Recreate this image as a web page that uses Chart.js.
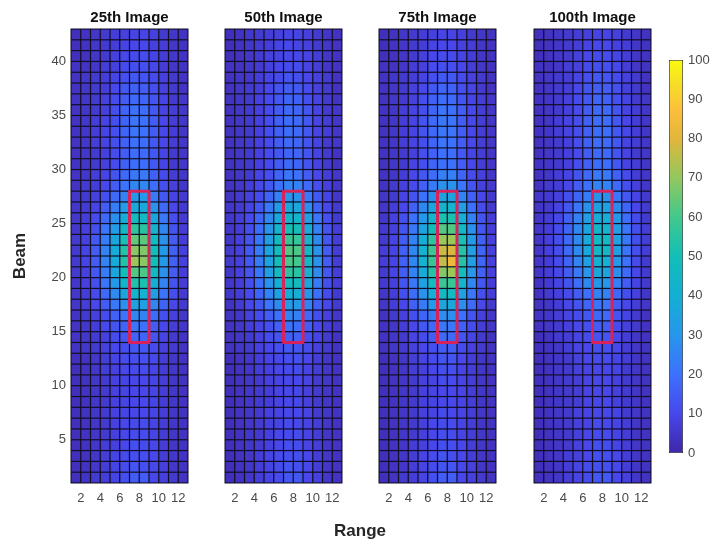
<!DOCTYPE html>
<html>
<head>
<meta charset="utf-8">
<script src="https://cdn.jsdelivr.net/npm/chart.js@4.4.1/dist/chart.umd.min.js"></script>
<style>
  body { margin: 0; background: #fff; }
  #wrap { position: relative; width: 720px; height: 546px; overflow: hidden; }
  canvas { position: absolute; top: 0; }
  #rangeLabel { position: absolute; left: 0; width: 720px; top: 521px; text-align: center;
    font: bold 17px "Liberation Sans", Arial, sans-serif; color: #262626; }
</style>
</head>
<body>
<div id="wrap">
  <canvas id="p0"></canvas>
  <canvas id="p1"></canvas>
  <canvas id="p2"></canvas>
  <canvas id="p3"></canvas>
  <canvas id="cbar"></canvas>
  <div id="rangeLabel">Range</div>
</div>
<script>
// grid values, rows listed from the top (beam 42) down to the bottom (beam 1), 12 range columns each
var img25 = [
  [3,4,5,6,7,8,9,9,8,6,5,4],
  [3,4,5,6,7,9,10,10,8,7,5,4],
  [3,4,5,6,8,10,11,11,9,7,5,4],
  [4,4,5,7,8,11,12,12,10,7,5,4],
  [4,5,6,7,9,12,14,13,11,8,6,4],
  [4,5,6,7,10,14,16,15,12,8,6,4],
  [4,5,6,8,11,15,18,17,13,9,6,5],
  [4,5,6,8,12,17,20,19,14,9,7,5],
  [4,5,7,9,12,17,21,20,15,10,7,5],
  [4,5,7,9,12,17,21,20,15,10,7,5],
  [4,5,7,9,12,16,20,19,14,10,7,5],
  [4,5,6,8,11,15,19,18,14,9,6,5],
  [4,5,6,8,11,16,19,19,14,9,6,5],
  [4,5,7,9,13,18,22,22,16,11,7,5],
  [4,6,7,10,15,21,26,26,19,12,8,5],
  [5,6,8,12,18,25,31,31,23,14,9,6],
  [5,6,9,15,23,32,38,37,29,18,10,6],
  [5,7,11,18,28,39,47,46,36,22,12,6],
  [5,8,12,21,32,46,56,55,42,26,13,7],
  [6,8,14,23,36,51,64,63,47,29,15,7],
  [6,9,15,25,38,54,69,68,50,31,16,8],
  [6,9,15,25,38,54,71,69,50,31,16,8],
  [6,8,14,23,36,50,62,61,46,29,15,7],
  [5,8,12,21,31,44,53,52,40,25,13,7],
  [5,7,11,18,27,36,43,42,33,21,12,6],
  [5,7,10,15,22,29,35,34,26,17,10,6],
  [4,6,8,11,16,21,26,25,19,12,8,5],
  [4,5,7,10,13,17,21,20,15,10,7,5],
  [4,5,6,8,11,14,17,17,13,9,6,4],
  [4,5,6,8,10,12,14,14,11,8,6,4],
  [3,4,5,7,9,11,12,12,10,7,5,4],
  [3,4,5,7,8,10,11,11,9,7,5,4],
  [3,4,5,6,8,9,10,10,9,7,5,4],
  [3,4,5,6,8,9,10,10,9,7,5,4],
  [3,4,5,6,8,9,10,10,9,7,5,4],
  [3,4,5,6,8,9,10,10,9,7,5,4],
  [3,4,5,6,8,10,11,11,9,7,5,4],
  [3,4,5,6,8,10,11,11,9,7,5,4],
  [3,4,5,7,8,10,12,11,10,7,5,4],
  [3,4,5,7,9,11,12,12,10,7,5,4],
  [3,4,5,7,9,11,13,12,10,8,5,4],
  [3,4,6,7,9,12,15,15,10,8,6,4]
];
var img50 = [
  [3,4,5,6,7,8,9,9,8,6,5,4],
  [3,4,5,6,7,9,10,9,8,6,5,4],
  [3,4,5,6,8,9,10,10,9,7,5,4],
  [4,4,5,6,8,10,11,11,9,7,5,4],
  [4,5,5,7,9,11,13,12,10,8,6,4],
  [4,5,6,7,10,13,15,14,11,8,6,4],
  [4,5,6,8,11,14,17,16,12,9,6,4],
  [4,5,6,8,11,15,18,17,13,9,6,5],
  [4,5,6,8,12,16,19,18,14,9,7,5],
  [4,5,6,8,12,16,19,18,14,9,7,5],
  [4,5,6,8,11,15,18,17,13,9,6,5],
  [4,5,6,8,11,14,17,17,13,9,6,4],
  [4,5,6,8,11,15,18,17,13,9,6,4],
  [4,5,6,9,12,17,21,20,15,10,7,5],
  [4,5,7,10,14,20,25,24,18,12,8,5],
  [4,6,8,11,17,24,30,29,22,14,9,5],
  [5,6,9,14,22,31,37,36,28,17,10,6],
  [5,7,11,17,26,37,44,43,34,21,12,6],
  [5,7,12,19,30,43,51,50,39,24,13,7],
  [5,8,13,21,33,48,58,57,44,27,14,7],
  [6,8,14,23,35,50,62,61,46,29,15,7],
  [6,8,14,23,35,50,61,60,46,29,15,7],
  [5,8,13,21,33,47,56,55,42,27,14,7],
  [5,7,12,19,29,40,48,47,37,23,12,7],
  [5,7,11,17,25,34,40,39,31,20,11,6],
  [4,6,10,14,21,27,32,31,25,16,10,6],
  [4,5,8,11,15,20,25,24,18,12,8,5],
  [4,5,7,9,12,16,20,19,15,10,7,5],
  [4,5,6,8,11,13,16,16,12,9,6,4],
  [4,5,6,8,10,12,14,13,11,8,6,4],
  [3,4,5,7,9,10,12,12,10,7,5,4],
  [3,4,5,7,8,10,11,11,9,7,5,4],
  [3,4,5,6,8,9,10,10,9,6,5,4],
  [3,4,5,6,7,9,10,10,8,6,5,4],
  [3,4,5,6,7,9,10,10,8,6,5,4],
  [3,4,5,6,8,9,10,10,9,6,5,4],
  [3,4,5,6,8,9,11,10,9,7,5,4],
  [3,4,5,6,8,10,11,11,9,7,5,4],
  [3,4,5,6,8,10,12,11,9,7,5,4],
  [3,4,5,7,9,11,12,12,10,7,5,4],
  [3,4,5,7,9,11,13,12,10,7,5,4],
  [3,4,5,7,9,11,14,14,10,8,5,4]
];
var img75 = [
  [3,4,5,6,7,8,9,9,8,6,5,4],
  [3,4,5,6,7,9,10,10,8,7,5,4],
  [3,4,5,6,8,10,11,11,9,7,5,4],
  [4,4,5,7,8,11,12,12,10,7,5,4],
  [4,5,6,7,9,12,14,14,11,8,6,4],
  [4,5,6,8,10,14,17,16,12,9,6,4],
  [4,5,6,8,12,16,19,18,13,9,7,5],
  [4,5,7,9,12,17,21,20,15,10,7,5],
  [4,5,7,9,13,18,22,21,15,10,7,5],
  [4,5,7,9,13,18,22,21,15,10,7,5],
  [4,5,7,9,12,17,21,20,15,10,7,5],
  [4,5,6,8,12,16,20,19,14,9,7,5],
  [4,5,6,9,12,17,20,20,15,10,7,5],
  [4,5,7,10,14,19,24,24,17,11,8,5],
  [4,6,8,11,16,23,29,29,21,13,8,6],
  [5,6,9,13,20,28,35,35,25,16,10,6],
  [5,7,10,16,26,36,43,43,33,20,11,6],
  [5,8,12,20,31,43,52,52,40,24,13,7],
  [6,8,13,22,35,50,62,62,46,28,14,7],
  [6,9,15,25,39,56,71,71,51,31,16,8],
  [7,9,16,26,41,59,77,79,54,33,17,8],
  [7,9,16,26,41,58,76,83,54,33,17,8],
  [6,9,15,25,38,54,68,71,49,30,16,8],
  [6,8,13,22,34,47,58,58,43,26,14,7],
  [5,7,12,19,29,39,47,47,35,22,12,7],
  [5,7,10,16,23,31,37,37,28,18,10,6],
  [4,6,8,12,17,23,28,28,20,13,8,5],
  [4,5,7,10,14,18,22,22,16,11,7,5],
  [4,5,6,9,11,15,18,18,13,9,6,4],
  [4,5,6,8,10,12,15,15,11,8,6,4],
  [3,4,5,7,9,11,13,13,10,7,5,4],
  [3,4,5,7,8,10,12,12,9,7,5,4],
  [3,4,5,6,8,9,11,11,9,7,5,4],
  [3,4,5,6,8,9,10,10,9,7,5,4],
  [3,4,5,6,8,9,10,10,9,7,5,4],
  [3,4,5,6,8,9,11,10,9,7,5,4],
  [3,4,5,6,8,10,11,11,9,7,5,4],
  [3,4,5,6,8,10,12,11,9,7,5,4],
  [3,4,5,7,8,10,12,12,10,7,5,4],
  [3,4,5,7,9,11,13,12,10,7,5,4],
  [3,4,5,7,9,11,13,13,10,8,5,4],
  [3,4,6,7,9,12,15,15,10,8,6,4]
];
var img100 = [
  [3,4,5,6,7,8,9,9,8,6,5,4],
  [3,4,5,6,7,9,10,10,8,7,5,4],
  [3,4,5,6,8,10,11,11,9,7,5,4],
  [4,4,5,7,8,11,12,12,10,7,5,4],
  [4,5,6,7,9,12,14,13,11,8,6,4],
  [4,5,6,7,10,13,15,15,12,8,6,4],
  [4,5,6,8,11,14,17,16,12,9,6,5],
  [4,5,6,8,11,15,18,18,13,9,7,5],
  [4,5,7,9,12,16,19,19,14,10,7,5],
  [4,5,7,9,12,16,19,19,14,10,7,5],
  [4,5,6,8,12,16,19,18,14,9,7,5],
  [4,5,6,8,11,15,18,18,13,9,6,5],
  [4,5,6,8,12,16,19,19,14,9,7,5],
  [4,5,7,9,13,18,22,22,16,11,7,5],
  [4,6,7,10,15,20,25,25,18,12,8,5],
  [5,6,8,12,17,23,29,29,21,14,9,6],
  [5,6,9,14,21,29,34,34,27,17,10,6],
  [5,7,10,16,24,33,39,39,31,19,11,6],
  [5,7,11,17,26,36,44,43,33,21,12,7],
  [5,8,12,18,27,38,47,46,35,22,12,7],
  [5,8,12,18,27,37,46,45,34,21,12,7],
  [5,7,11,17,25,34,42,41,31,20,11,6],
  [5,7,10,15,22,30,37,36,28,18,10,6],
  [4,6,9,13,19,26,31,31,24,15,9,6],
  [4,6,8,11,15,20,25,25,18,12,8,5],
  [4,5,7,10,13,17,21,21,15,10,7,5],
  [4,5,7,9,11,14,18,18,13,9,6,4],
  [4,5,6,8,10,12,15,15,11,8,6,4],
  [3,4,6,7,9,11,13,13,10,7,5,4],
  [3,4,5,7,9,10,12,12,10,7,5,4],
  [3,4,5,6,8,10,11,11,9,7,5,4],
  [3,4,5,6,8,9,10,10,9,6,5,4],
  [3,4,5,6,7,9,10,10,8,6,5,4],
  [3,4,5,6,7,9,10,10,8,6,5,4],
  [3,4,5,6,7,9,10,10,8,6,5,4],
  [3,4,5,6,8,9,10,10,9,6,5,4],
  [3,4,5,6,8,9,11,10,9,7,5,4],
  [3,4,5,6,8,10,11,11,9,7,5,4],
  [3,4,5,6,8,10,12,11,9,7,5,4],
  [3,4,5,7,8,10,12,12,10,7,5,4],
  [3,4,5,7,9,11,12,12,10,7,5,4],
  [3,4,5,7,9,11,14,14,10,8,5,4]
];

var panelTitles = ['25th Image', '50th Image', '75th Image', '100th Image'];
var panelData = [img25, img50, img75, img100];
var roiRange = [7, 9];   // red box, range edges
var roiBeam = [14, 28];  // red box, beam edges
var rangeLimits = [1, 13];
var beamLimits = [1, 43];
var colorLimits = [0, 100];

// parula-like colormap
var parulaStops = [
  [0.00, [62, 38, 168]],
  [0.10, [71, 71, 235]],
  [0.20, [60, 113, 253]],
  [0.30, [39, 150, 235]],
  [0.40, [20, 175, 212]],
  [0.50, [18, 190, 184]],
  [0.60, [66, 200, 140]],
  [0.70, [146, 200, 94]],
  [0.80, [226, 182, 58]],
  [0.87, [252, 190, 60]],
  [0.94, [246, 222, 40]],
  [1.00, [249, 251, 14]]
];

function parula(v) {
  var t = (v - colorLimits[0]) / (colorLimits[1] - colorLimits[0]);
  t = Math.max(0, Math.min(1, t));
  for (var i = 1; i < parulaStops.length; i++) {
    if (t <= parulaStops[i][0]) {
      var a = parulaStops[i - 1], b = parulaStops[i];
      var f = (t - a[0]) / (b[0] - a[0]);
      var c = a[1].map(function (x, j) { return Math.round(x + (b[1][j] - x) * f); });
      return 'rgb(' + c.join(',') + ')';
    }
  }
  return 'rgb(249,251,14)';
}

// dark plot-area background so the cell edges read as grid lines
var plotBackground = {
  id: 'plotBackground',
  beforeDatasetsDraw: function (chart) {
    var a = chart.chartArea, c = chart.ctx;
    c.save();
    c.fillStyle = '#120e24';
    c.fillRect(a.left - 0.5, a.top - 0.5, a.right - a.left + 1, a.bottom - a.top + 1);
    c.restore();
  }
};

var fontFamily = '"Liberation Sans", Arial, sans-serif';
var panelLeft = [71, 225, 379, 534];
var panelWidth = 117;

function makePanel(n) {
  var rows = panelData[n];
  var cells = [];
  for (var r = 0; r < rows.length; r++) {
    var beam = rows.length - r; // top row is beam 42
    for (var c = 0; c < rows[r].length; c++) {
      cells.push({ x: rangeLimits[0] + c + 0.5, y: [beam, beam + 1], v: rows[r][c] });
    }
  }
  var box = [
    { x: roiRange[0], y: roiBeam[0] },
    { x: roiRange[1], y: roiBeam[0] },
    { x: roiRange[1], y: roiBeam[1] },
    { x: roiRange[0], y: roiBeam[1] },
    { x: roiRange[0], y: roiBeam[0] }
  ];
  var side = n === 0 ? panelLeft[0] : 40;
  var w = side * 2 + panelWidth;
  var canvas = document.getElementById('p' + n);
  canvas.style.left = (panelLeft[n] - side) + 'px';
  canvas.style.width = w + 'px';
  canvas.style.height = '546px';
  canvas.width = w;
  canvas.height = 546;

  new Chart(canvas, {
    type: 'bar',
    plugins: [plotBackground],
    data: {
      datasets: [
        {
          type: 'line',
          data: box,
          borderColor: '#d6245a',
          borderWidth: 3,
          borderJoinStyle: 'round',
          borderCapStyle: 'round',
          pointRadius: 0,
          tension: 0,
          order: 0
        },
        {
          type: 'bar',
          data: cells,
          backgroundColor: function (ctx) { return ctx.raw ? parula(ctx.raw.v) : '#3e26a8'; },
          borderWidth: 0,
          borderSkipped: false,
          inflateAmount: -0.6,
          barPercentage: 1,
          categoryPercentage: 1,
          order: 1
        }
      ]
    },
    options: {
      responsive: false,
      animation: false,
      events: [],
      layout: { padding: 0 },
      plugins: {
        legend: { display: false },
        tooltip: { enabled: false },
        title: {
          display: true,
          text: panelTitles[n],
          color: '#111',
          font: { family: fontFamily, size: 15, weight: 'bold', lineHeight: 1.2 },
          padding: { top: 9, bottom: 2 }
        }
      },
      scales: {
        x: {
          type: 'linear',
          offset: false,
          min: rangeLimits[0],
          max: rangeLimits[1],
          grid: { display: false, drawTicks: false },
          border: { display: false },
          ticks: {
            stepSize: 1,
            autoSkip: false,
            maxRotation: 0,
            padding: 8,
            color: '#4a4a4a',
            font: { family: fontFamily, size: 13 },
            callback: function (v) { return v % 2 === 0 ? v : ''; }
          },
          afterFit: function (s) { s.height = 63; }
        },
        y: {
          type: 'linear',
          min: beamLimits[0],
          max: beamLimits[1],
          grid: { display: false, drawTicks: false },
          border: { display: false },
          title: {
            display: n === 0,
            text: 'Beam',
            color: '#262626',
            font: { family: fontFamily, size: 17, weight: 'bold' },
            padding: { top: 10, bottom: 0 }
          },
          ticks: {
            display: n === 0,
            stepSize: 1,
            autoSkip: false,
            padding: 5,
            color: '#4a4a4a',
            font: { family: fontFamily, size: 13 },
            callback: function (v) { return v % 5 === 0 ? v : ''; }
          },
          afterFit: function (s) { s.width = side; }
        },
        // empty right margin so the title centres over the panel
        yRight: {
          position: 'right',
          grid: { display: false, drawTicks: false },
          border: { display: false },
          ticks: { display: false },
          afterFit: function (s) { s.width = side; }
        }
      }
    }
  });
}

for (var i = 0; i < 4; i++) makePanel(i);

// colorbar
var cbCanvas = document.getElementById('cbar');
cbCanvas.style.left = '669px';
cbCanvas.width = 51;
cbCanvas.height = 546;
cbCanvas.style.width = '51px';
cbCanvas.style.height = '546px';
new Chart(cbCanvas, {
  type: 'bar',
  data: {
    labels: ['c'],
    datasets: [{
      data: [colorLimits],
      backgroundColor: function (ctx) {
        var area = ctx.chart.chartArea;
        if (!area) return '#3e26a8';
        var g = ctx.chart.ctx.createLinearGradient(0, area.bottom, 0, area.top);
        parulaStops.forEach(function (s) { g.addColorStop(s[0], 'rgb(' + s[1].join(',') + ')'); });
        return g;
      },
      borderColor: '#2b2b2b',
      borderWidth: 0.8,
      borderSkipped: false,
      inflateAmount: 0,
      barPercentage: 1,
      categoryPercentage: 1
    }]
  },
  options: {
    responsive: false,
    animation: false,
    events: [],
    layout: { padding: { top: 60, bottom: 93, left: 0, right: 0 } },
    plugins: { legend: { display: false }, tooltip: { enabled: false } },
    scales: {
      x: { display: false },
      y: {
        position: 'right',
        min: colorLimits[0],
        max: colorLimits[1],
        grid: { display: false, drawTicks: false },
        border: { display: false },
        ticks: {
          stepSize: 10,
          padding: 5,
          color: '#4a4a4a',
          font: { family: fontFamily, size: 13 }
        },
        afterFit: function (s) { s.width = 37; }
      }
    }
  }
});
</script>
</body>
</html>
